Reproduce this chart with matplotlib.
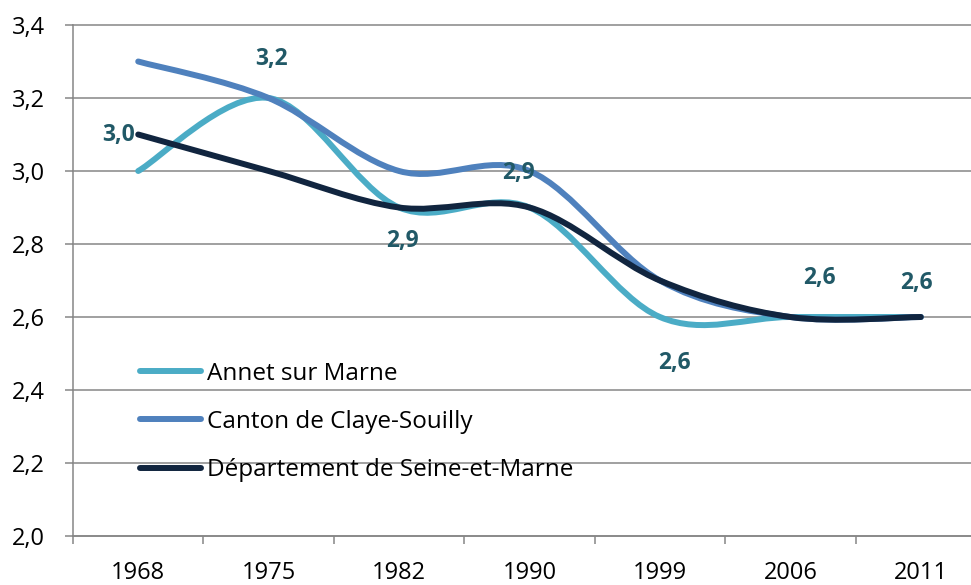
import numpy as np
import matplotlib
matplotlib.use('Agg')
import matplotlib.pyplot as plt
from matplotlib.path import Path
from matplotlib.patches import PathPatch
from matplotlib.lines import Line2D

# Donnees (taille moyenne des menages)
annees = ['1968', '1975', '1982', '1990', '1999', '2006', '2011']
annet = [3.0, 3.2, 2.9, 2.9, 2.6, 2.6, 2.6]
canton = [3.3, 3.2, 3.0, 3.0, 2.7, 2.6, 2.6]
departement = [3.1, 3.0, 2.9, 2.9, 2.7, 2.6, 2.6]
noms = ['Annet sur Marne', 'Canton de Claye-Souilly', 'Département de Seine-et-Marne']
couleurs = ['#4BACC6', '#4F81BD', '#11253F']
ticks_y = [2.0, 2.2, 2.4, 2.6, 2.8, 3.0, 3.2, 3.4]

# decalage des etiquettes d'Annet (pixels)
decalages = [(-20, 36), (3, 39), (3, -34), (-11, 35), (15, -46), (29, 39), (-4, 34)]

GRIS = '#868686'
plt.rcParams['font.family'] = ['Open Sans', 'DejaVu Sans']


def courbe_lisse(x, y):
    # lissage type Excel (Catmull-Rom -> Bezier)
    pts = np.column_stack([x, y]).astype(float)
    n = len(pts)
    verts = [pts[0]]
    codes = [Path.MOVETO]
    for i in range(n - 1):
        p0 = pts[max(i - 1, 0)]
        p1 = pts[i]
        p2 = pts[i + 1]
        p3 = pts[min(i + 2, n - 1)]
        verts += [p1 + (p2 - p0) / 6, p2 - (p3 - p1) / 6, p2]
        codes += [Path.CURVE4] * 3
    return Path(verts, codes)


fig = plt.figure(figsize=(9.71, 5.85), dpi=100)
ax = fig.add_axes([73 / 971, 49 / 585, 913 / 971, 511 / 585])

x = np.arange(len(annees))
for serie, coul in zip([annet, canton, departement], couleurs):
    patch = PathPatch(courbe_lisse(x, serie), fill=False, edgecolor=coul, lw=4.3,
                      capstyle='round', joinstyle='round', zorder=3)
    ax.add_patch(patch)

for xi, v, d in zip(x, annet, decalages):
    ax.annotate(f'{v:.1f}'.replace('.', ','), (xi, v), xytext=d, textcoords='offset pixels',
                ha='center', va='center', fontsize=16.5, fontweight='bold', color='#215967', zorder=4)

ax.set_xlim(-0.5, len(annees) - 0.5)
ax.set_ylim(2.0, 3.4)
ax.set_yticks(ticks_y)
ax.set_yticklabels([f'{t:.1f}'.replace('.', ',') for t in ticks_y])
ax.set_xticks(np.arange(len(annees) + 1) - 0.5)
ax.set_xticklabels([])
ax.set_xticks(x, minor=True)
ax.set_xticklabels(annees, minor=True)
ax.tick_params(axis='x', which='major', length=6, width=1.1, color=GRIS, direction='out')
ax.tick_params(axis='x', which='minor', length=0, pad=18, labelsize=17)
ax.tick_params(axis='y', length=6, width=1.1, color=GRIS, pad=14, labelsize=17)

ax.yaxis.grid(True, color=GRIS, lw=1.1)
for gl in ax.get_ygridlines():
    gl.set_clip_on(False)
ax.set_axisbelow(True)
for s in ['top', 'right']:
    ax.spines[s].set_visible(False)
for s in ['left', 'bottom']:
    ax.spines[s].set_color(GRIS)
    ax.spines[s].set_linewidth(1.1)

poignees = [Line2D([], [], color=c, lw=4.3, solid_capstyle='round') for c in couleurs]
ax.legend(poignees, noms, loc='center left', bbox_to_anchor=(140 / 971, (585 - 422) / 585),
          bbox_transform=fig.transFigure, frameon=False, fontsize=17.5, handlelength=2.5,
          handletextpad=0.25, labelspacing=1.0, borderpad=0, borderaxespad=0)

fig.savefig('out.png', dpi=100)
